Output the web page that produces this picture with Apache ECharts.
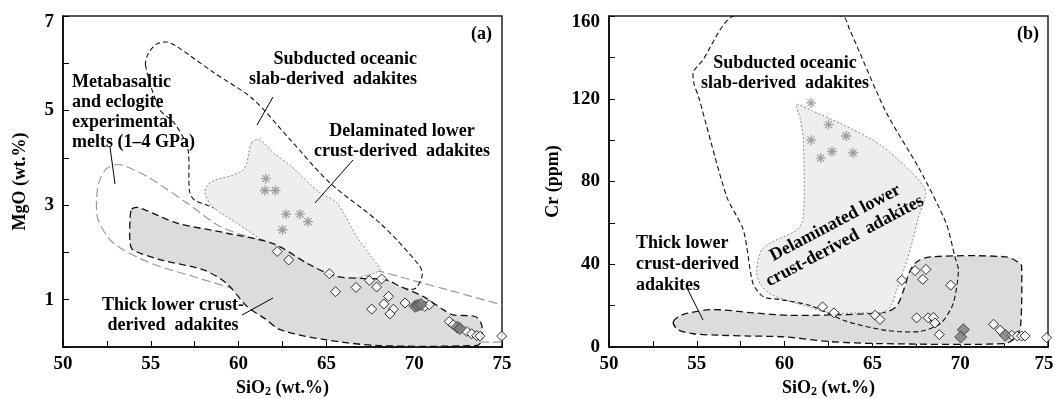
<!DOCTYPE html>
<html><head><meta charset="utf-8">
<script src="https://cdn.jsdelivr.net/npm/echarts@6/dist/echarts.min.js"></script>
<style>html,body{margin:0;padding:0;background:#fff}#c{width:1055px;height:399px}</style>
</head><body><div id="c"></div>
<script>
// ---------- DATA ----------
const xTickLabels = [50, 55, 60, 65, 70, 75];
const mgoTickLabels = [1, 3, 5, 7];
const crTickLabels = [0, 40, 80, 120, 160];

// Panel (a): SiO2 vs MgO fields
const subductedA = [[54.7,5.95],[54.85,6.2],[55.3,6.4],[55.9,6.45],[56.5,6.35],[58.6,5.8],[60.8,5.25],[62.9,4.4],[65.2,3.47],[68.05,2.62],[70.3,1.72],[70.45,1.5],[69.95,1.22],[68,1.4],[66,1.75],[63,2.3],[60,2.75],[58.2,3.0],[57.45,3.12],[57.2,3.3],[57.15,4.1],[56.95,4.36],[56.3,4.75],[55.5,5.03]];
const metabasalticA = [[75,0.11],[73.8,0.11],[70,0.35],[65,0.65],[62,0.9],[60.46,1.14],[57.42,1.49],[54.95,1.78],[52.87,2.2],[52.0,2.69],[51.92,3.19],[52.1,3.54],[52.5,3.78],[53.15,3.86],[53.7,3.8],[54.77,3.61],[57.04,3.05],[58.94,2.55],[61,2.28],[63,2.05],[65,1.85],[66.5,1.72],[68.05,1.6],[70,1.4],[72,1.2],[75,0.89]];
const delaminatedA = [[60.74,4.32],[61.2,4.38],[62.0,4.1],[62.9,3.85],[64.64,3.26],[65.59,3.05],[66.72,2.34],[67.67,1.85],[68.05,1.63],[66.72,1.46],[65.49,1.46],[64,1.75],[62.36,2.09],[61.2,2.3],[59.9,2.62],[58.47,2.98],[58.09,3.26],[58.18,3.4],[58.56,3.51],[60.27,3.75]];
const thickA = [[53.91,2.91],[54.3,2.95],[56.5,2.62],[59.3,2.41],[62,2.18],[64,1.75],[65.5,1.5],[67,1.45],[68.4,1.42],[69.2,1.28],[70.5,1.07],[71.7,0.78],[72.2,0.68],[73.5,0.64],[73.85,0.45],[73.8,0.1],[73.5,0.03],[68,0.03],[65,0.15],[62.4,0.36],[61.5,0.6],[60.5,0.85],[59.3,1.35],[58,1.63],[55.5,1.85],[54,2.05],[53.82,2.2],[53.82,2.7]];
const diamondsA = [[62.2,2.02],[62.85,1.84],[65.17,1.55],[65.52,1.17],[66.69,1.26],[67.45,1.41],[67.86,1.27],[68.15,1.44],[68.54,1.07],[68.27,0.91],[67.58,0.8],[68.82,0.8],[68.62,0.7],[69.48,0.93],[70.6,0.86],[70.86,0.89],[72.0,0.54],[72.23,0.47],[72.99,0.33],[73.27,0.28],[73.56,0.24],[73.75,0.23],[74.98,0.23]];
const grayDiamondsA = [[70.05,0.86],[70.2,0.88],[70.38,0.9],[72.45,0.42],[72.6,0.39]];
const asterisksA = [[61.55,3.56],[61.5,3.31],[62.1,3.31],[62.7,2.81],[63.5,2.81],[63.95,2.65],[62.5,2.48]];

// Panel (b): SiO2 vs Cr fields
const subductedB = [[57.1,160],[63.3,160],[63.7,153.5],[65.8,113.2],[67.7,85.7],[69.2,59.8],[69.7,43.6],[69.9,37],[69.6,21],[68.9,11.5],[67.7,7.5],[65.8,8],[63.5,12.5],[61.5,20],[59.7,23],[58.8,24.2],[58.2,30.7],[57.65,56.6],[56.7,72.7],[55.1,121],[54.85,127],[54.8,133],[55.3,138.2]];
const delaminatedB = [[60.69,117.2],[61.6,114],[63.2,108],[65.4,98],[67.3,84],[67.9,77.6],[68.05,74],[67.6,62],[67.3,51.7],[66.85,38.8],[66.4,28],[66.1,20.5],[65.6,16.8],[64.5,16.5],[62.6,16.5],[61.5,19],[59.8,23.5],[59.1,26],[58.6,30.7],[58.4,37],[58.8,48],[60.7,56.6],[61.07,63],[61.07,100],[60.9,110]];
const thickB = [[53.66,12.1],[54.0,14.8],[54.42,16.2],[55.94,18.1],[58.22,16.5],[60.2,15.3],[62.6,15.5],[64.5,16],[65.8,17],[66.4,20],[66.8,28],[67.1,36],[67.5,41],[68.3,43.6],[72.6,43.6],[73.4,40.5],[73.5,38.8],[73.45,11.3],[73.2,4.8],[72.5,1.65],[65.4,1.65],[62.6,2.6],[60,4.9],[58,5.3],[56.3,5.7],[54.8,6.4],[53.9,8.5]];
const diamondsB = [[62.16,19.4],[62.81,16.5],[65.15,15.4],[65.43,13.3],[66.67,32.3],[67.43,36.9],[68.05,37.5],[67.87,32.7],[69.46,29.9],[67.52,14.1],[68.18,14.1],[68.47,14.3],[68.56,11.6],[68.81,6.0],[71.9,11.0],[72.28,8.1],[72.93,5.7],[73.25,5.3],[73.5,5.3],[73.69,5.3],[74.92,4.5]];
const grayDiamondsB = [[70.18,8.4],[70.03,4.85],[72.57,5.7]];
const asterisksB = [[61.5,118],[62.5,107.5],[61.5,100],[63.5,102],[62.7,94.5],[62.05,91.3],[63.9,93.8]];

// ---------- CHART ----------
const FONT = "'Liberation Serif','Times New Roman',serif";
const chart = echarts.init(document.getElementById('c'), null, {renderer: 'canvas'});

function shapeSeries(idx, pts, style, closed, smooth) {
  return {
    type: 'custom', xAxisIndex: idx, yAxisIndex: idx, clip: true, silent: true,
    data: [[60, 1]],
    renderItem: function (params, api) {
      return {
        type: closed ? 'polygon' : 'polyline',
        shape: {points: pts.map(p => api.coord(p)), smooth: smooth},
        style: style
      };
    }
  };
}
const sSub = {fill: 'none', stroke: '#111', lineWidth: 1.1, lineDash: [5, 3]};
const sThick = {fill: '#dcdcdc', stroke: '#111', lineWidth: 1.3, lineDash: [7, 4]};
const sDel = {fill: '#eeeeee', stroke: '#8a8a8a', lineWidth: 1, lineDash: [2, 2]};
const sMeta = {fill: 'none', stroke: '#9a9a9a', lineWidth: 1.2, lineDash: [9, 4]};

const asteriskPath = 'path://M5,0L5,10M0,5L10,5M1.5,1.5L8.5,8.5M1.5,8.5L8.5,1.5';
function scatter(idx, data, kind) {
  const base = {type: 'scatter', xAxisIndex: idx, yAxisIndex: idx, data: data, silent: true, z: 5};
  if (kind === 'white') return Object.assign(base, {symbol: 'diamond', symbolSize: 10, itemStyle: {color: '#fff', borderColor: '#000', borderWidth: 1}});
  if (kind === 'gray') return Object.assign(base, {symbol: 'diamond', symbolSize: 12, itemStyle: {color: '#7a7a7a', borderColor: '#333', borderWidth: 1}});
  return Object.assign(base, {symbol: asteriskPath, symbolSize: 10, itemStyle: {color: '#8a8a8a', borderColor: '#8a8a8a', borderWidth: 1.3}});
}

const labelStyle = {color: '#000', fontSize: 19, fontWeight: 'bold', fontFamily: FONT};
const richBase = {fontSize: 19, fontWeight: 'bold', fontFamily: FONT, color: '#000'};
function xAxis(idx) {
  return {
    gridIndex: idx, type: 'value', min: 50, max: 75, interval: 2.5,
    name: '{b|SiO}{s|2}{b| (wt.%)}', nameLocation: 'middle', nameGap: 29,
    nameTextStyle: {rich: {
      b: {fontSize: 18, fontWeight: 'bold', fontFamily: FONT, color: '#000'},
      s: {fontSize: 12, fontWeight: 'bold', fontFamily: FONT, color: '#000', padding: [9, 0, 0, 0]}}},
    axisLine: {lineStyle: {color: '#000', width: 1.5}},
    axisTick: {inside: true, length: 6, lineStyle: {color: '#000', width: 1}},
    axisLabel: Object.assign({margin: 8, showMinLabel: true, showMaxLabel: true,
      formatter: v => xTickLabels.includes(v) ? (idx === 1 && v === 75 ? '{r|75}' : String(v)) : '',
      rich: {r: Object.assign({padding: [0, 8, 0, 0]}, richBase)}}, labelStyle),
    splitLine: {show: false}
  };
}
function yAxis(idx, max, interval, labels, name, gap) {
  return {
    gridIndex: idx, type: 'value', min: 0, max: max, interval: interval,
    name: name, nameLocation: 'middle', nameGap: gap,
    nameTextStyle: {fontSize: 18, fontWeight: 'bold', fontFamily: FONT, color: '#000'},
    axisLine: {lineStyle: {color: '#000', width: 1.5}},
    axisTick: {inside: true, length: 6, lineStyle: {color: '#000', width: 1}},
    axisLabel: Object.assign({margin: 9, showMinLabel: true, showMaxLabel: true,
      formatter: v => labels.includes(v) ? (v === max ? '{t|' + v + '}' : String(v)) : '',
      rich: {t: Object.assign({padding: [12, 0, 0, 0]}, richBase)}}, labelStyle),
    splitLine: {show: false}
  };
}

const tStyle = (extra) => Object.assign({fontSize: 18, fontWeight: 'bold', fontFamily: FONT, fill: '#000', lineHeight: 20}, extra);
const line = (x1, y1, x2, y2) => ({type: 'line', shape: {x1, y1, x2, y2}, style: {stroke: '#000', lineWidth: 1}, z: 20, silent: true});

chart.setOption({
  animation: false,
  backgroundColor: '#fff',
  grid: [
    {left: 63, right: 553, top: 16, bottom: 52, show: true, borderColor: '#222', borderWidth: 1.5, outerBoundsMode: 'none', containLabel: false},
    {left: 609, right: 7, top: 16, bottom: 52, show: true, borderColor: '#222', borderWidth: 1.5, outerBoundsMode: 'none', containLabel: false}
  ],
  xAxis: [xAxis(0), xAxis(1)],
  yAxis: [yAxis(0, 7, 1, mgoTickLabels, 'MgO (wt.%)', 34), yAxis(1, 160, 20, crTickLabels, 'Cr (ppm)', 47)],
  series: [
    shapeSeries(0, metabasalticA, sMeta, false, 0.3),
    shapeSeries(0, subductedA, sSub, true, 0.3),
    shapeSeries(0, delaminatedA, sDel, true, 0.3),
    shapeSeries(0, thickA, sThick, true, 0.3),
    scatter(0, asterisksA, 'ast'),
    scatter(0, diamondsA, 'white'),
    scatter(0, grayDiamondsA, 'gray'),
    shapeSeries(1, thickB, sThick, true, 0.3),
    shapeSeries(1, delaminatedB, sDel, true, 0.3),
    shapeSeries(1, subductedB, sSub, true, 0.25),
    scatter(1, asterisksB, 'ast'),
    scatter(1, diamondsB, 'white'),
    scatter(1, grayDiamondsB, 'gray')
  ],
  graphic: [
    {type: 'text', x: 492, y: 34, z: 20, style: tStyle({text: '(a)', align: 'right', verticalAlign: 'middle'})},
    {type: 'text', x: 417, y: 69, z: 20, style: tStyle({text: 'Subducted oceanic\nslab-derived  adakites', align: 'right', verticalAlign: 'middle'})},
    {type: 'text', x: 402, y: 141, z: 20, style: tStyle({text: 'Delaminated lower\ncrust-derived  adakites', align: 'center', verticalAlign: 'middle'})},
    {type: 'text', x: 72, y: 112, z: 20, style: tStyle({text: 'Metabasaltic\nand eclogite\nexperimental\nmelts (1\u20134 GPa)', align: 'left', verticalAlign: 'middle'})},
    {type: 'text', x: 173, y: 315, z: 20, style: tStyle({text: 'Thick lower crust-\nderived  adakites', align: 'center', verticalAlign: 'middle'})},
    line(273, 97, 257, 125),
    line(353, 160, 315, 203),
    line(110, 147, 115, 184),
    line(242, 315, 273, 298),
    {type: 'text', x: 1039, y: 34, z: 20, style: tStyle({text: '(b)', align: 'right', verticalAlign: 'middle'})},
    {type: 'text', x: 785, y: 73, z: 20, style: tStyle({text: 'Subducted oceanic\nslab-derived  adakites', align: 'center', verticalAlign: 'middle'})},
    {type: 'text', x: 636, y: 264, z: 20, style: tStyle({text: 'Thick lower\ncrust-derived\nadakites', align: 'left', verticalAlign: 'middle', lineHeight: 21})},
    {type: 'text', x: 840, y: 232, rotation: 28 * Math.PI / 180, z: 20, style: tStyle({text: 'Delaminated lower\ncrust-derived  adakites', align: 'center', verticalAlign: 'middle', lineHeight: 20.5})},
    line(687, 288, 703, 320)
  ]
});
</script></body></html>
